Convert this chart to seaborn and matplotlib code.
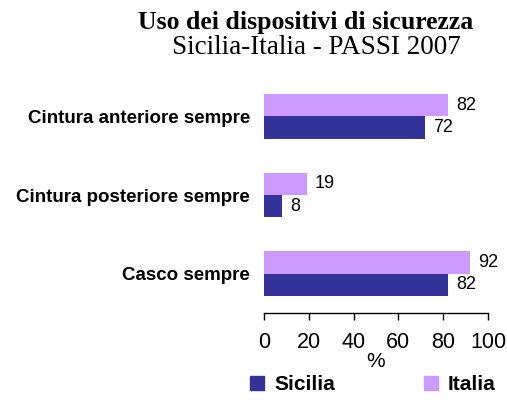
import matplotlib
matplotlib.use("Agg")
import matplotlib.pyplot as plt
import seaborn as sns
import pandas as pd
from matplotlib.patches import Patch

categories = ["Cintura anteriore sempre", "Cintura posteriore sempre", "Casco sempre"]
sicilia = [72, 8, 82]
italia = [82, 19, 92]
series_names = ["Sicilia", "Italia"]
xticks = [0, 20, 40, 60, 80, 100]

col_sicilia = "#333399"
col_italia = "#CC99FF"

df = pd.DataFrame({
    "cat": categories * 2,
    "val": italia + sicilia,
    "serie": ["Italia"] * 3 + ["Sicilia"] * 3,
})

sns.set_theme(style="white")
plt.rcParams["font.family"] = ["Liberation Sans", "DejaVu Sans"]
plt.rcParams["text.color"] = "black"
plt.rcParams["axes.labelcolor"] = "black"
plt.rcParams["xtick.color"] = "black"
plt.rcParams["ytick.color"] = "black"

fig = plt.figure(figsize=(5.07, 4.01), dpi=100)
ax = fig.add_axes([264 / 507, 1 - 313 / 401, (488 - 264) / 507, (313 - 77) / 401])

sns.barplot(data=df, y="cat", x="val", hue="serie", order=categories,
            hue_order=["Italia", "Sicilia"],
            palette={"Italia": col_italia, "Sicilia": col_sicilia},
            orient="h", width=0.57, saturation=1, linewidth=0, ax=ax, legend=False)

for cont in ax.containers:
    ax.bar_label(cont, labels=[f"{v:g}" for v in cont.datavalues], padding=6,
                 fontsize=13, color="black")

ax.set_xlim(0, 100)
ax.set_ylim(2.5, -0.5)
ax.set_xticks(xticks)
ax.set_xticklabels([str(t) for t in xticks], fontsize=15.5)
ax.set_yticks(range(len(categories)))
ax.set_yticklabels(categories, fontsize=13.5, fontweight="bold")
ax.set_xlabel("%", fontsize=15)
ax.xaxis.set_label_coords(0.5, -0.165)
ax.set_ylabel("")
for s in ["top", "right", "left"]:
    ax.spines[s].set_visible(False)
ax.spines["bottom"].set_color("black")
ax.spines["bottom"].set_linewidth(1)
ax.tick_params(axis="x", direction="out", length=5, width=1, color="black", pad=9, bottom=True)
ax.tick_params(axis="y", length=0, pad=10)

fig.text(0.603, 0.945, "Uso dei dispositivi di sicurezza", ha="center", va="center",
         fontsize=18.5, fontweight="bold", family="Liberation Serif")
fig.text(0.624, 0.882, "Sicilia-Italia - PASSI 2007", ha="center", va="center",
         fontsize=19.5, family="Liberation Serif")

for name, color, xpos in [("Sicilia", col_sicilia, 250 / 507), ("Italia", col_italia, 424 / 507)]:
    fig.legend([Patch(color=color)], [name], loc="center left",
               bbox_to_anchor=(xpos, 1 - 385 / 401), frameon=False,
               prop={"weight": "bold", "size": 15}, borderpad=0, borderaxespad=0,
               handlelength=0.65, handleheight=0.65, handletextpad=0.5)

fig.savefig("out.png", dpi=100)
